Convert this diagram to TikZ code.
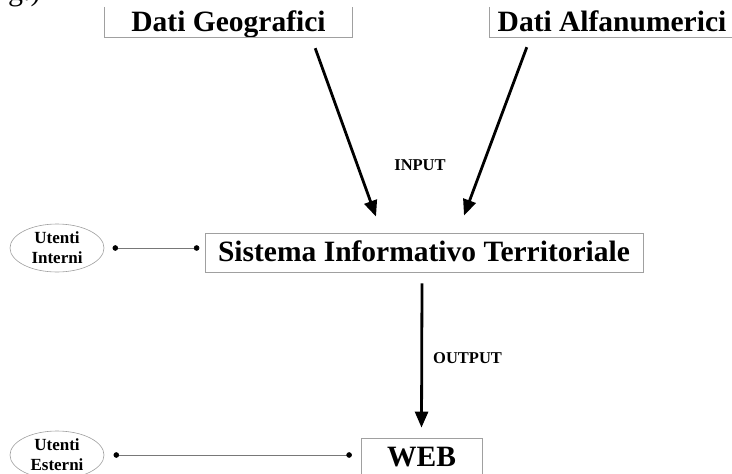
\documentclass[tikz,border=0pt]{standalone}
\usepackage{fontspec}
\setmainfont{Liberation Serif}
\usetikzlibrary{arrows.meta}
\usetikzlibrary{shapes.geometric}
\definecolor{bordo}{RGB}{160,160,160}
\definecolor{linea}{RGB}{120,120,120}
\colorlet{freccia}{black}

\begin{document}
\begin{tikzpicture}[x=1pt, y=-1pt, >={Triangle[length=16pt,width=13pt]},
    titolo/.style={font=\fontsize{29.5}{34}\selectfont\bfseries, text height=20pt, text depth=2pt, inner sep=0pt},
    bordino/.style={draw=bordo, line width=0.8pt},
    utente/.style={ellipse, draw=bordo, line width=0.6pt, minimum width=94pt, minimum height=48pt, inner sep=0pt,
        align=center, font=\fontsize{17}{20}\selectfont\bfseries},
    etichetta/.style={font=\fontsize{16.5}{20}\selectfont\bfseries, inner sep=0pt},
    flusso/.style={freccia, line width=2.8pt, ->},
    collega/.style={linea, line width=0.6pt, {Circle[length=5.5pt,color=black]}-{Circle[length=5.5pt,color=black]}}]

    \useasboundingbox (0,0) rectangle (732,474);
    \fill[white] (0,0) rectangle (732,474);
    \clip (0,0) rectangle (732,474);

    % frammento di testo tagliato in alto
    \node[anchor=base west, inner sep=0pt, font=\fontsize{30}{30}\selectfont] (frammento) at (8,0) {g.)};

    % sorgenti dei dati
    \node[titolo, minimum width=247pt, minimum height=30pt] (dg) at (228.5,22) {Dati Geografici};
    \node[titolo, minimum width=244pt, minimum height=30pt] (da) at (612,22) {Dati Alfanumerici};
    \draw[bordino] (dg.north west) -- (dg.south west) -- (dg.south east) -- (dg.north east);
    \draw[bordino] (da.north west) -- (da.south west) -- (da.south east) -- (da.north east);

    % sistema e web
    \node[titolo, bordino, minimum width=438pt, minimum height=39pt] (sit) at (424,252.5) {Sistema Informativo Territoriale};
    \node[titolo, bordino, minimum width=121pt, minimum height=39pt] (web) at (421.5,457.5) {WEB};

    % utenti
    \node[utente] (ui) at (57,248) {Utenti\\Interni};
    \node[utente] (ue) at (57,455) {Utenti\\Esterni};

    % frecce
    \draw[flusso] ([xshift=-37pt,yshift=-11pt]dg.south east) -- ([xshift=-48pt,yshift=16pt]sit.north);
    \draw[flusso] ([xshift=37pt,yshift=-10pt]da.south west) -- ([xshift=40pt,yshift=17pt]sit.north);
    \draw[flusso] ([xshift=-2pt,yshift=-11pt]sit.south) -- ([yshift=10pt]web.north);
    \node[etichetta] (input) at (420,165) {INPUT};
    \node[etichetta, anchor=west] (output) at (433,358) {OUTPUT};

    % collegamenti utenti
    \draw[collega, shorten <=8.25pt, shorten >=5.25pt] (ui.east) -- (ui.east -| sit.west);
    \draw[collega, shorten <=9.25pt, shorten >=8.75pt] (ue.east) -- (ue.east -| web.west);

\end{tikzpicture}
\end{document}
